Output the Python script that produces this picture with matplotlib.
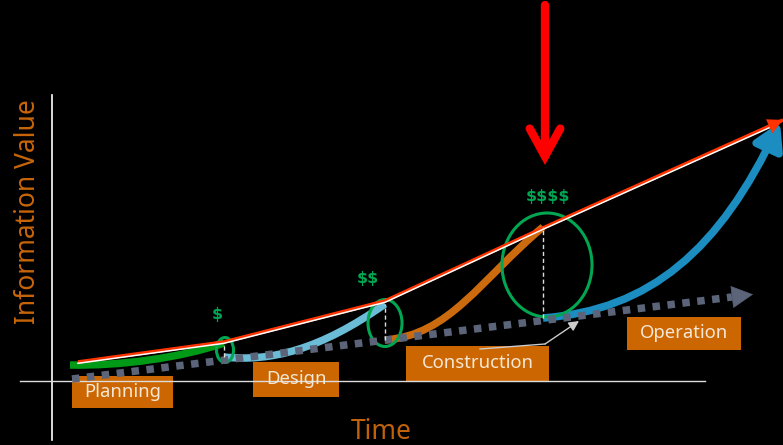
"""Information value across the asset lifecycle: Planning -> Design -> Construction -> Operation."""
import matplotlib

matplotlib.use("Agg")
import matplotlib.pyplot as plt  # noqa: E402
from matplotlib.patches import Ellipse, FancyArrowPatch, PathPatch, Rectangle  # noqa: E402
from matplotlib.path import Path  # noqa: E402
from matplotlib.transforms import offset_copy  # noqa: E402

# --- data (time, information value), origin at the axis crossing ---
phases = ["Planning", "Design", "Construction", "Operation"]
# each phase curve: start, control 1, control 2, end (cubic Bezier)
phase_curves = [
    [(18, 16), (68, 15), (128, 23), (172, 38)],
    [(172, 24), (218, 19), (268, 31), (333, 77)],
    [(333, 41), (398, 46), (428, 101), (491, 154)],
    [(491, 63), (598, 71), (668, 131), (728, 259)],
]
phase_colors = ["#009A17", "#6BBCD6", "#CC6A0E", "#1B8DC0"]

value_time = [26, 172, 333, 491, 731]
value_level = [19, 39, 80, 153, 261]

baseline_time = [20, 680]
baseline_value = [2, 84]

milestone_time = [172, 333, 491]
milestone_ellipse = [(173, 31, 17, 25), (333, 58, 34, 47), (495, 116, 90, 104)]
dollars = ["$", "$$", "$$$$"]
dollar_pos = [(165, 66), (316, 103), (496, 184)]

box_pos = [(20, -27, 101, 32), (201, -16, 86, 35), (354, 0, 143, 35), (575, 31, 114, 33)]

ORANGE = "#C8650A"
GREEN = "#00A651"

fig = plt.figure(figsize=(7.83, 4.45), dpi=100, facecolor="black")
ax = fig.add_axes([0, 0, 1, 1])
ax.set_facecolor("black")
ax.set_xlim(-52, 731)
ax.set_ylim(-64, 381)
ax.axis("off")

# axes
ax.plot([0, 0], [286, -59], color="white", lw=1.2)
ax.plot([-32, 653], [0, 0], color="#DDDDDD", lw=1.0)

# dotted baseline with arrow head
ax.plot(baseline_time, baseline_value, color="#5B6479", lw=5.4,
        linestyle=(0, (1.0, 1.0)), dash_capstyle="butt")
ax.annotate("", xy=(baseline_time[1] + 21, baseline_value[1] + 2.6),
            xytext=(baseline_time[1], baseline_value[1]),
            arrowprops=dict(arrowstyle="-|>,head_length=1.45,head_width=0.76",
                            color="#5B6479", lw=0.5, shrinkA=0, shrinkB=0,
                            mutation_scale=10))

# information value line (red with white highlight)
ax.plot(value_time, value_level, color="#FF3300", lw=2.6, solid_capstyle="butt")
ax.plot(value_time[:-1] + [value_time[-1] - 6], value_level[:-1] + [value_level[-1] - 3],
        color="white", lw=1.1,
        transform=offset_copy(ax.transData, fig=fig, y=-1.3, units="dots"))
ax.annotate("", xy=(value_time[-1], value_level[-1]),
            xytext=(value_time[-2], value_level[-2]),
            arrowprops=dict(arrowstyle="-|>,head_length=0.9,head_width=0.45",
                            color="#FF3300", lw=0.1, shrinkA=0, shrinkB=0,
                            mutation_scale=12))

# phase curves
codes = [Path.MOVETO, Path.CURVE4, Path.CURVE4, Path.CURVE4]
for i, (pts, col) in enumerate(zip(phase_curves, phase_colors)):
    path = Path(pts, codes)
    if i == len(phase_curves) - 1:
        ax.add_patch(FancyArrowPatch(path=path, color=col, lw=5.5,
                                     arrowstyle="-|>,head_length=1.2,head_width=0.7",
                                     mutation_scale=13, capstyle="butt"))
    else:
        ax.add_patch(PathPatch(path, fill=False, ec=col, lw=5.4, capstyle="butt"))

# milestone markers
for i, t in enumerate(milestone_time):
    top = phase_curves[i][-1][1]
    bottom = phase_curves[i + 1][0][1]
    ax.plot([t, t], [bottom, top], color="#DDDDDD", lw=1.0, linestyle=(0, (3, 2)))
for (cx, cy, w, h) in milestone_ellipse:
    ax.add_patch(Ellipse((cx, cy), w, h, fill=False, ec=GREEN, lw=2.2))
for (x, y), d in zip(dollar_pos, dollars):
    ax.text(x, y, d, color=GREEN, fontsize=11.5, fontweight="bold",
            ha="center", va="center", parse_math=False)

# phase boxes
for (x, y, w, h), name in zip(box_pos, phases):
    ax.add_patch(Rectangle((x, y), w, h, color="#CC6600", lw=0))
    ax.text(x + w / 2, y + h / 2, name, color="#F6E7D6", fontsize=13.3,
            ha="center", va="center", family=["Noto Sans", "DejaVu Sans"])

# small pointer from the construction box toward the baseline
ax.plot([428, 493], [32, 37], color="#CCCCCC", lw=1.0)
ax.annotate("", xy=(527, 60), xytext=(493, 37),
            arrowprops=dict(arrowstyle="-|>,head_length=0.6,head_width=0.3",
                            color="#CCCCCC", lw=1.0, shrinkA=0, shrinkB=0,
                            mutation_scale=10))

# red pointer at construction hand-over
ax.annotate("", xy=(493, 216), xytext=(493, 376),
            arrowprops=dict(arrowstyle="->,head_length=1.0,head_width=0.55",
                            color="#FF0000", lw=6, shrinkA=0, shrinkB=0,
                            mutation_scale=20, capstyle="round", joinstyle="miter"))

# axis titles
ax.text(-24, 169, "Information Value", color=ORANGE, fontsize=19, rotation=90,
        ha="center", va="center", family=["Noto Sans", "DejaVu Sans"])
ax.text(329, -51, "Time", color="#C0620C", fontsize=19, fontweight="medium",
        ha="center", va="center", family=["Noto Sans", "DejaVu Sans"])

fig.savefig("out.png", dpi=100, facecolor="black")
